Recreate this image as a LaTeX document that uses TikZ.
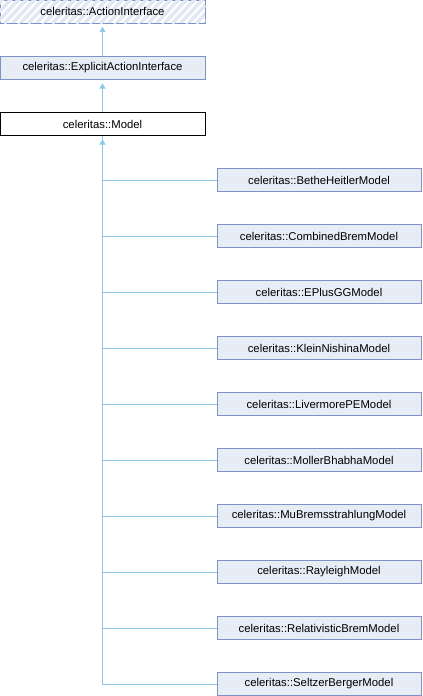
\documentclass[tikz,border=0pt]{standalone}
\usepackage{fontspec}
\setmainfont{Liberation Sans}
\usetikzlibrary{arrows.meta}

\definecolor{boxfill}{RGB}{232,236,245}
\definecolor{boxline}{RGB}{124,147,198}
\definecolor{linkline}{RGB}{140,200,232}
\definecolor{hatch}{RGB}{226,231,242}

\tikzset{
  cls/.style={draw=boxline, fill=boxfill, line width=0.75pt, inner sep=0pt,
    minimum width=153.75pt, minimum height=17.25pt, font=\fontsize{8.5}{9}\selectfont},
  sub/.style={cls, minimum width=153pt},
  conn/.style={draw=linkline, line width=0.75pt},
  inh/.style={conn, {Triangle[length=4pt,width=4.5pt]}-, shorten <=2.5pt}
}

\begin{document}
\begin{tikzpicture}[x=0.75pt,y=0.75pt,yscale=-1,xscale=1]
\useasboundingbox (0,0) rectangle (422,696);

%Shape: Rectangle, hatched and dashed
\node[cls, fill=white] (action) at (102.5,11.5) {};
\begin{scope}
  \clip (action.south west) rectangle (action.north east);
  \foreach \s in {-30,-22,...,220}
    \draw[hatch, line width=2.6pt] (\s,26) -- (\s+26,-2);
\end{scope}
\draw[boxline, line width=0.75pt, dash pattern=on 5.5pt off 3.5pt] (action.south west) rectangle (action.north east);
\node[font=\fontsize{8.5}{9}\selectfont] at (action) {celeritas::ActionInterface};

%Shape: Rectangle
\node[cls] (explicit) at (102.5,68) {celeritas::ExplicitActionInterface};
%Shape: Rectangle
\node[cls, draw=black, fill=white] (model) at (102.5,124) {celeritas::Model};

% Children
\node[sub] (bethe)   at (319,180) {celeritas::BetheHeitlerModel};
\node[sub] (combrem) at (319,236) {celeritas::CombinedBremModel};
\node[sub] (eplus)   at (319,292) {celeritas::EPlusGGModel};
\node[sub] (klein)   at (319,348) {celeritas::KleinNishinaModel};
\node[sub] (liver)   at (319,404) {celeritas::LivermorePEModel};
\node[sub] (moller)  at (319,460) {celeritas::MollerBhabhaModel};
\node[sub] (mubrem)  at (319,516) {celeritas::MuBremsstrahlungModel};
\node[sub] (rayl)    at (319,572) {celeritas::RayleighModel};
\node[sub] (relbrem) at (319,628) {celeritas::RelativisticBremModel};
\node[sub] (seltzer) at (319,684) {celeritas::SeltzerBergerModel};

%Straight Lines
\draw[inh] (action.south) -- (explicit.north);
\draw[inh] (explicit.south) -- (model.north);
\draw[inh] (model.south) |- (seltzer.west);
\foreach \c in {bethe,combrem,eplus,klein,liver,moller,mubrem,rayl,relbrem}
  \draw[conn] (model.south) |- (\c.west);

\end{tikzpicture}
\end{document}
